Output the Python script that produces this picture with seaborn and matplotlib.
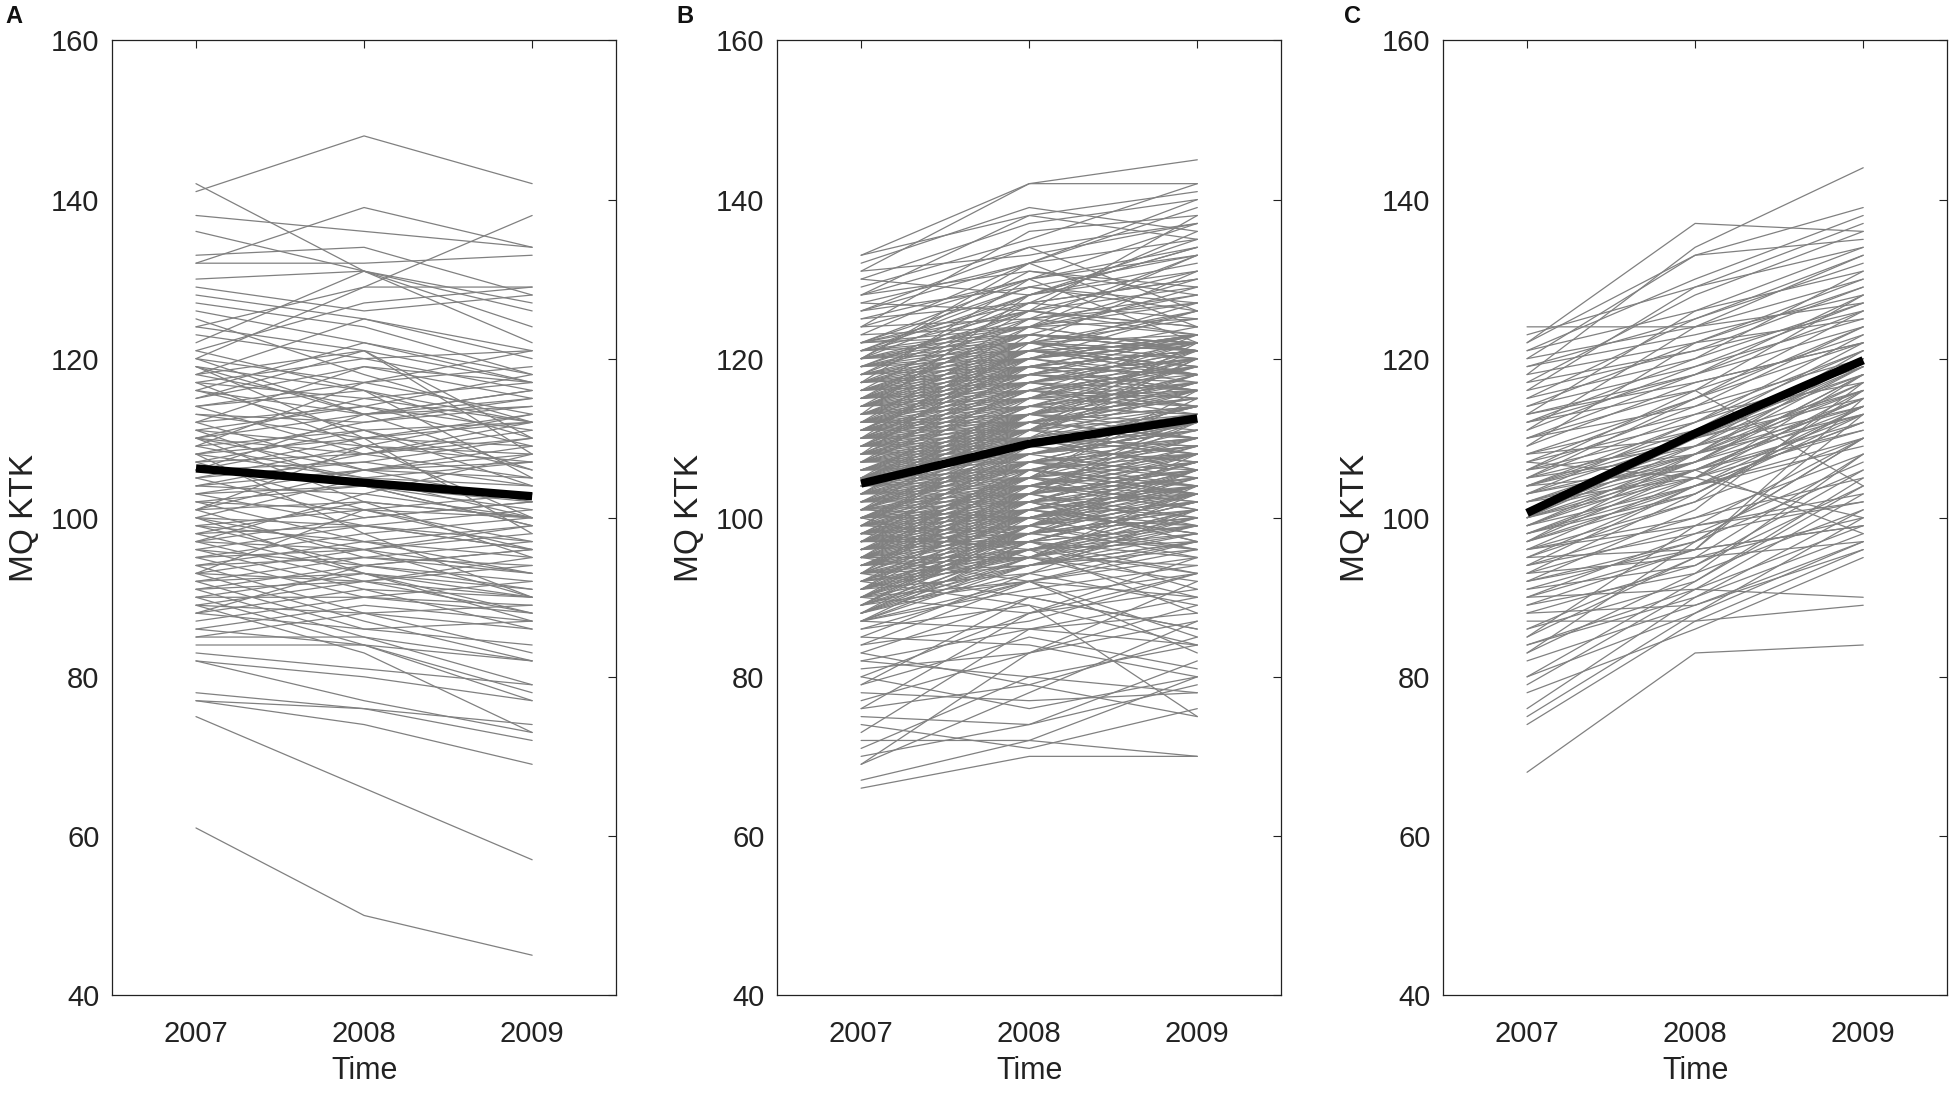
import pandas as pd
import seaborn as sns
import matplotlib.pyplot as plt

# years of measurement
years = [2007, 2008, 2009]

# individual trajectories (MQ KTK in 2007, 2008, 2009)
traj_a = [
    (61, 50, 45), (75, 66, 57), (141, 148, 142), (142, 131, 122), (138, 136, 134),
    (132, 139, 134), (136, 131, 124), (132, 132, 133), (120, 129, 138), (133, 134, 128),
    (130, 131, 127), (128, 125, 120), (124, 129, 129), (126, 122, 117), (122, 131, 126),
    (118, 125, 121), (124, 121, 110), (121, 127, 129), (119, 116, 112), (117, 120, 121),
    (125, 118, 112), (116, 122, 118), (114, 117, 119), (120, 113, 106), (112, 119, 115),
    (118, 114, 111), (110, 113, 116), (115, 121, 108), (113, 110, 112), (121, 116, 105),
    (111, 114, 109), (109, 117, 121), (116, 111, 104), (108, 112, 114), (117, 109, 100),
    (107, 111, 106), (114, 108, 110), (106, 110, 113), (112, 106, 102), (110, 108, 111),
    (105, 109, 108), (119, 110, 98), (109, 105, 107), (104, 108, 112), (111, 104, 99),
    (108, 110, 109), (103, 106, 105), (107, 101, 97), (106, 107, 110), (102, 104, 99),
    (110, 102, 95), (101, 106, 107), (105, 100, 102), (104, 103, 100), (100, 105, 104),
    (103, 99, 96), (99, 101, 103), (108, 98, 90), (98, 102, 100), (102, 97, 93),
    (97, 100, 102), (101, 95, 94), (96, 99, 97), (100, 96, 90), (95, 98, 100),
    (99, 94, 92), (94, 97, 95), (98, 93, 88), (93, 96, 98), (97, 92, 90),
    (92, 95, 93), (96, 91, 86), (91, 94, 96), (95, 90, 89), (90, 93, 91),
    (94, 88, 83), (89, 92, 94), (93, 87, 82), (88, 91, 90), (92, 86, 84),
    (87, 90, 92), (91, 85, 79), (86, 89, 87), (90, 84, 77), (85, 88, 89),
    (89, 83, 73), (85, 85, 82), (84, 84, 78), (83, 81, 79), (82, 77, 73),
    (78, 76, 72), (77, 76, 74), (77, 74, 69), (82, 80, 77), (115, 119, 117),
    (113, 112, 115), (111, 109, 107), (109, 111, 112), (107, 108, 105), (106, 104, 102),
    (104, 106, 108), (103, 104, 101), (101, 102, 100), (100, 99, 101), (98, 99, 96),
    (97, 96, 99), (95, 96, 93), (93, 92, 95), (92, 93, 90), (90, 90, 88),
    (89, 88, 86), (112, 114, 118), (116, 113, 116), (118, 121, 117), (120, 117, 113),
    (123, 120, 116), (117, 115, 112), (114, 116, 110), (110, 115, 117), (108, 105, 100),
    (105, 107, 104), (102, 101, 96), (99, 97, 99), (96, 94, 91), (94, 95, 97),
    (91, 92, 88), (88, 86, 87), (86, 84, 82), (127, 124, 118), (129, 126, 128),
    (97, 103, 108), (101, 109, 113), (110, 106, 109), (88, 94, 96), (93, 101, 100),
    (119, 113, 115), (106, 113, 114), (100, 93, 87),
]

traj_b = [
    (133, 142, 142), (131, 142, 145), (133, 138, 141), (132, 139, 136), (130, 137, 140),
    (129, 135, 142), (131, 133, 137), (128, 138, 135), (127, 132, 139), (130, 128, 134),
    (126, 134, 137), (125, 130, 133), (128, 131, 128), (124, 136, 138), (127, 126, 131),
    (123, 132, 135), (126, 129, 126), (122, 130, 134), (125, 127, 130), (121, 128, 132),
    (124, 125, 127), (120, 131, 129), (123, 124, 133), (119, 127, 130),
    (66, 70, 70), (67, 72, 80), (69, 78, 87), (70, 74, 82), (72, 72, 70),
    (74, 71, 76), (69, 83, 89), (71, 80, 84), (73, 86, 90), (75, 74, 79),
    (76, 79, 75), (77, 83, 92), (78, 77, 78), (79, 85, 81), (80, 76, 80),
    (80, 88, 95), (81, 83, 87), (82, 80, 78), (83, 90, 86), (84, 87, 93),
    (85, 84, 80), (86, 92, 96), (79, 90, 93), (83, 79, 85), (85, 93, 89),
    (76, 88, 91), (82, 86, 84), (86, 89, 75), (84, 92, 83), (87, 86, 88),
    (87, 95, 99), (87, 91, 94), (88, 97, 93), (88, 93, 101), (89, 96, 97),
    (89, 92, 90), (90, 98, 104), (90, 94, 96), (90, 101, 98), (91, 95, 100),
    (91, 99, 95), (91, 93, 97), (92, 100, 105), (92, 96, 93), (92, 98, 101),
    (93, 97, 99), (93, 104, 102), (93, 95, 94), (94, 99, 106), (94, 102, 97),
    (94, 96, 100), (95, 101, 103), (95, 98, 96), (95, 105, 110), (96, 100, 102),
    (96, 103, 99), (96, 99, 105), (97, 104, 107), (97, 101, 98), (97, 106, 103),
    (98, 102, 108), (98, 105, 101), (98, 100, 104), (99, 107, 109), (99, 103, 100),
    (99, 101, 106), (100, 106, 111), (100, 104, 102), (100, 109, 107), (100, 102, 97),
    (101, 108, 112), (101, 105, 103), (101, 103, 109), (102, 107, 110), (102, 110, 106),
    (102, 104, 101), (103, 109, 114), (103, 106, 104), (103, 111, 108), (104, 108, 113),
    (104, 106, 103), (104, 112, 115), (104, 107, 109), (105, 110, 116), (105, 108, 105),
    (105, 113, 111), (106, 111, 117), (106, 109, 107), (106, 107, 112), (107, 113, 115),
    (107, 110, 108), (107, 115, 119), (108, 112, 118), (108, 110, 109), (108, 116, 113),
    (109, 114, 119), (109, 112, 110), (109, 117, 120), (110, 115, 121), (110, 113, 112),
    (110, 118, 116), (111, 116, 122), (111, 114, 113), (111, 119, 121), (112, 117, 120),
    (112, 115, 114), (112, 121, 118), (113, 118, 123), (113, 116, 115), (113, 120, 122),
    (114, 119, 121), (114, 117, 116), (114, 122, 125), (115, 120, 123), (115, 118, 117),
    (115, 124, 121), (116, 121, 126), (116, 119, 118), (117, 122, 121), (117, 125, 128),
    (118, 123, 122), (118, 120, 124), (119, 124, 127), (119, 122, 120), (120, 125, 123),
    (120, 128, 131), (121, 126, 129), (121, 123, 122), (122, 127, 125), (122, 129, 133),
    (88, 94, 97), (89, 99, 102), (90, 92, 95), (91, 97, 103), (92, 94, 98),
    (93, 100, 96), (94, 97, 102), (95, 103, 106), (96, 97, 95), (97, 99, 101),
    (98, 108, 111), (99, 98, 103), (100, 105, 108), (101, 100, 104), (102, 112, 114),
    (103, 104, 107), (104, 110, 106), (105, 106, 109), (106, 114, 116), (107, 108, 111),
    (108, 114, 120), (109, 110, 114), (110, 116, 118), (111, 112, 115), (112, 118, 122),
    (113, 114, 117), (114, 120, 118), (115, 116, 119), (116, 123, 121), (117, 118, 120),
    (118, 126, 124), (119, 120, 123), (120, 122, 126), (121, 129, 127), (122, 124, 128),
    (87, 92, 97), (89, 94, 99), (91, 101, 104), (93, 98, 103), (95, 100, 99),
    (97, 102, 105), (99, 105, 104), (101, 107, 106), (103, 108, 111), (105, 111, 114),
    (107, 112, 110), (109, 115, 117), (111, 117, 119), (113, 119, 118), (115, 121, 120),
    (117, 120, 123), (119, 126, 124), (121, 124, 125), (88, 99, 96), (90, 96, 101),
    (92, 102, 100), (94, 100, 103), (96, 102, 107), (98, 103, 106), (100, 107, 105),
    (102, 106, 108), (104, 109, 112), (106, 112, 110), (108, 113, 116), (110, 114, 117),
    (112, 116, 119), (114, 118, 120), (116, 117, 122), (118, 121, 119), (120, 124, 121),
    (122, 126, 123), (95, 99, 108), (96, 106, 104), (97, 103, 112), (98, 101, 99),
    (99, 110, 108), (100, 103, 113), (101, 110, 109), (102, 105, 115), (103, 113, 110),
    (104, 105, 116), (105, 114, 113), (106, 110, 120), (107, 116, 114), (108, 111, 122),
    (109, 118, 116), (110, 111, 120), (111, 120, 117), (112, 113, 121), (113, 121, 119),
    (114, 115, 123), (115, 122, 118), (116, 118, 123), (117, 119, 116), (118, 128, 134),
    (116, 127, 136), (114, 125, 133), (112, 124, 130), (110, 123, 129), (108, 122, 131),
    (115, 126, 138), (120, 132, 140), (113, 128, 135), (117, 130, 137), (111, 121, 127),
    (109, 120, 126), (126, 132, 124), (124, 130, 122), (128, 134, 126), (98, 96, 88),
    (95, 92, 85), (100, 95, 90), (93, 90, 86), (97, 97, 91), (92, 89, 84),
    (94, 95, 92), (90, 88, 93),
    (87, 94, 100), (88, 96, 99), (89, 95, 103), (90, 97, 99), (91, 96, 98),
    (92, 99, 104), (93, 96, 101), (94, 103, 105), (95, 97, 102), (96, 101, 104),
    (97, 100, 106), (98, 104, 103), (99, 102, 107), (100, 101, 106), (101, 104, 110),
    (102, 103, 105), (103, 105, 112), (104, 111, 110), (105, 109, 112), (106, 108, 111),
    (107, 109, 113), (108, 109, 112), (109, 113, 115), (110, 112, 116), (111, 113, 118),
    (112, 114, 117), (113, 115, 120), (114, 116, 119), (115, 117, 121), (116, 120, 122),
    (117, 121, 119), (118, 119, 121), (119, 121, 122), (120, 123, 122), (121, 122, 123),
    (122, 123, 121), (87, 97, 102), (88, 95, 104), (89, 98, 100), (90, 99, 103),
    (91, 98, 106), (92, 95, 101), (93, 101, 107), (94, 98, 101), (95, 102, 104),
    (96, 104, 109), (97, 105, 108), (98, 107, 104), (99, 104, 108), (100, 108, 110),
    (101, 109, 114), (102, 108, 112), (103, 107, 108), (104, 113, 117), (105, 112, 110),
    (106, 113, 119), (107, 111, 117), (108, 117, 115), (109, 111, 118), (110, 119, 121),
    (111, 115, 116), (112, 119, 123), (113, 117, 114), (114, 121, 122), (115, 119, 116),
    (116, 122, 120), (117, 123, 122), (118, 122, 121), (119, 123, 121), (120, 121, 118),
    (93, 94, 97), (95, 95, 98), (97, 98, 100), (99, 100, 102), (101, 102, 103),
    (103, 103, 106), (105, 105, 107), (107, 107, 109), (109, 109, 111), (111, 111, 113),
    (94, 101, 98), (96, 98, 100), (98, 99, 102), (100, 100, 104), (102, 102, 107),
    (104, 104, 106), (106, 106, 108), (108, 108, 110), (110, 110, 113), (112, 112, 114),
    (89, 100, 105), (91, 103, 108), (93, 106, 110), (95, 107, 112), (97, 109, 114),
    (99, 111, 116), (101, 113, 118), (103, 115, 120), (105, 117, 121), (107, 119, 123),
]

traj_c = [
    (68, 83, 84), (74, 87, 96), (75, 88, 97), (76, 90, 101), (78, 86, 95),
    (80, 92, 104), (80, 88, 100), (83, 93, 108), (84, 91, 103), (85, 95, 100),
    (85, 99, 110), (87, 87, 89), (88, 94, 106), (89, 96, 113), (90, 91, 90),
    (90, 98, 102), (91, 97, 110), (92, 101, 117), (93, 95, 97), (93, 103, 114),
    (94, 100, 108), (94, 104, 112), (95, 96, 99), (95, 102, 116), (96, 105, 118),
    (96, 100, 105), (97, 104, 112), (97, 108, 120), (98, 103, 114), (98, 106, 111),
    (99, 107, 117), (99, 104, 110), (100, 109, 121), (100, 105, 113), (100, 110, 116),
    (101, 106, 115), (101, 111, 122), (102, 107, 118), (102, 105, 111), (103, 110, 119),
    (103, 108, 114), (104, 112, 123), (104, 109, 116), (105, 110, 120), (105, 113, 117),
    (106, 111, 118), (106, 114, 124), (107, 112, 119), (108, 115, 126), (108, 110, 115),
    (109, 117, 122), (110, 118, 128), (110, 114, 120), (111, 119, 125), (112, 120, 131),
    (113, 118, 124), (114, 122, 130), (115, 120, 127), (115, 125, 133), (116, 121, 129),
    (117, 128, 136), (118, 122, 125), (118, 134, 144), (119, 125, 132), (120, 124, 130),
    (121, 130, 138), (121, 126, 131), (122, 137, 136), (122, 133, 139), (123, 129, 134),
    (124, 124, 127), (120, 133, 135), (116, 129, 137), (113, 126, 134), (111, 124, 133),
    (109, 122, 129), (97, 103, 113), (98, 105, 116), (99, 106, 114), (100, 107, 118),
    (101, 108, 117), (102, 109, 119), (103, 107, 115), (104, 111, 120), (105, 108, 113),
    (96, 102, 110), (95, 104, 114), (99, 108, 119), (101, 107, 113), (103, 112, 121),
    (98, 104, 109), (100, 106, 112), (102, 108, 116), (104, 110, 118), (106, 109, 114),
    (97, 106, 115), (104, 106, 98), (107, 105, 100), (112, 116, 104), (84, 90, 98),
    (86, 92, 105), (88, 89, 97), (89, 93, 101), (91, 94, 104), (92, 97, 106),
    (93, 99, 102), (86, 95, 108), (82, 89, 96), (79, 91, 99), (83, 97, 110),
    (90, 96, 115), (94, 98, 107), (96, 99, 103), (92, 96, 99), (113, 117, 122),
    (114, 119, 127), (117, 121, 126), (119, 123, 128), (112, 118, 126), (110, 116, 123),
    (108, 113, 121), (107, 115, 124), (106, 116, 128), (105, 115, 122),
]

# group mean trajectories (thick black lines)
mean_a = [106.2, 104.4, 102.7]
mean_b = [104.3, 109.3, 112.5]
mean_c = [100.6, 110.6, 119.8]

panel_letters = ['A', 'B', 'C']
letter_x = [0.003, 0.347, 0.689]
axes_left = [0.0574, 0.3985, 0.740]

sns.set_style('white')
plt.rcParams['font.family'] = ['Liberation Sans', 'DejaVu Sans']


def to_long(traj):
    rows = []
    for i, vals in enumerate(traj):
        for yr, v in zip(years, vals):
            rows.append({'id': i, 'year': yr, 'score': v})
    return pd.DataFrame(rows)


fig = plt.figure(figsize=(19.5, 10.94), dpi=100)

for k, (traj, mean) in enumerate(zip([traj_a, traj_b, traj_c], [mean_a, mean_b, mean_c])):
    ax = fig.add_axes([axes_left[k], 0.0905, 0.2586, 0.8725])
    df = to_long(traj)
    sns.lineplot(data=df, x='year', y='score', units='id', estimator=None,
                 color='#808080', linewidth=0.9, ax=ax, legend=False)
    sns.lineplot(x=years, y=mean, color='black', linewidth=6, ax=ax,
                 solid_capstyle='butt')

    ax.set_xlim(2006.5, 2009.5)
    ax.set_ylim(40, 160)
    ax.set_xticks(years)
    ax.set_yticks(range(40, 161, 20))
    ax.tick_params(direction='in', length=6, width=0.8, top=True, right=True,
                   labelsize=21, colors='#222222')
    ax.tick_params(axis='y', pad=9)
    ax.tick_params(axis='x', pad=18)
    for s in ax.spines.values():
        s.set_color('#222222')
        s.set_linewidth(0.9)
    ax.set_xlabel('Time', fontsize=22, labelpad=6, color='#222222')
    ax.set_ylabel('MQ KTK', fontsize=24, labelpad=8, color='#222222',
                  family=['Liberation Sans Narrow', 'Liberation Sans', 'DejaVu Sans'])

    fig.text(letter_x[k], 0.995, panel_letters[k], fontsize=17, fontweight='bold',
             va='top', ha='left', color='#111111')

fig.savefig('out.png', dpi=100)
